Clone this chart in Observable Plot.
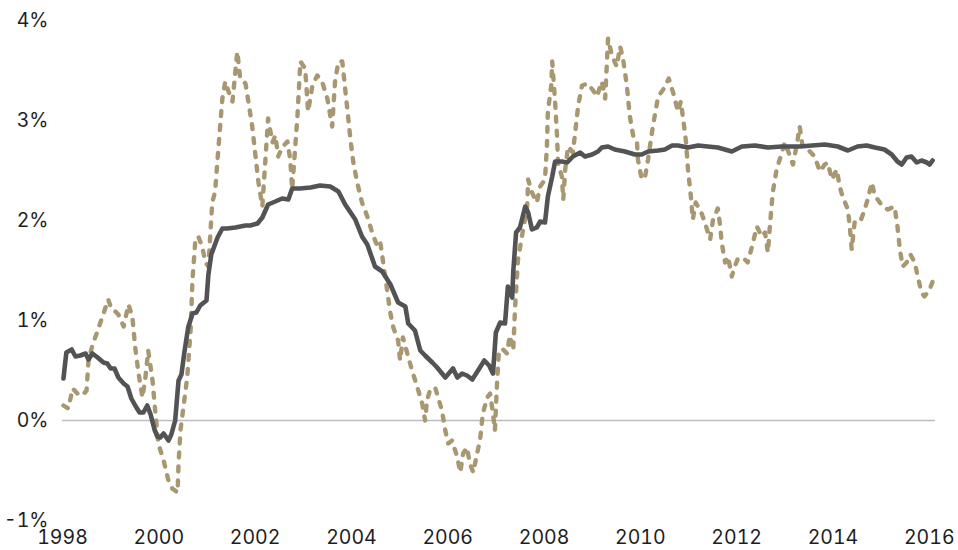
<!DOCTYPE html>
<html>
<head>
<meta charset="utf-8">
<script src="https://cdn.jsdelivr.net/npm/d3@7"></script>
<script src="https://cdn.jsdelivr.net/npm/@observablehq/plot@0.6"></script>
<style>
  html, body { margin: 0; padding: 0; background: #fff; }
  #chart svg { display: block; }
</style>
</head>
<body>
<div id="chart"></div>
<script>
// Solid series (dark grey) — decimal year, percent
const solidYears = [1998.02,1998.08,1998.19,1998.27,1998.37,1998.48,1998.54,1998.62,1998.73,1998.85,1998.93,1999.00,1999.08,1999.16,1999.27,1999.35,1999.43,1999.51,1999.60,1999.68,1999.76,1999.83,1999.91,1999.97,2000.03,2000.10,2000.20,2000.26,2000.34,2000.41,2000.47,2000.53,2000.61,2000.70,2000.78,2000.86,2000.99,2001.03,2001.09,2001.22,2001.32,2001.42,2001.59,2001.80,2001.90,2002.05,2002.15,2002.27,2002.42,2002.56,2002.69,2002.77,2002.93,2003.15,2003.35,2003.56,2003.73,2003.87,2004.08,2004.22,2004.33,2004.49,2004.64,2004.81,2004.97,2005.12,2005.18,2005.32,2005.43,2005.53,2005.68,2005.78,2005.95,2006.11,2006.20,2006.30,2006.40,2006.51,2006.63,2006.76,2006.86,2006.94,2007.00,2007.09,2007.19,2007.25,2007.34,2007.36,2007.42,2007.50,2007.61,2007.67,2007.75,2007.85,2007.92,2008.02,2008.08,2008.17,2008.23,2008.37,2008.48,2008.60,2008.75,2008.85,2009.00,2009.12,2009.20,2009.33,2009.47,2009.68,2009.89,2010.03,2010.16,2010.37,2010.51,2010.66,2010.78,2010.99,2011.20,2011.40,2011.61,2011.90,2012.11,2012.38,2012.65,2012.94,2013.31,2013.83,2014.10,2014.31,2014.51,2014.70,2014.87,2015.07,2015.22,2015.34,2015.43,2015.53,2015.63,2015.74,2015.84,2015.95,2016.01,2016.07];
const solidValues = [0.42,0.68,0.71,0.64,0.65,0.67,0.61,0.67,0.63,0.58,0.57,0.52,0.52,0.43,0.37,0.34,0.22,0.15,0.08,0.08,0.15,0.06,-0.09,-0.16,-0.17,-0.13,-0.20,-0.14,0.00,0.40,0.46,0.68,0.93,1.07,1.08,1.15,1.20,1.46,1.66,1.83,1.92,1.92,1.93,1.95,1.95,1.97,2.03,2.16,2.19,2.22,2.21,2.32,2.32,2.33,2.35,2.34,2.29,2.16,2.01,1.84,1.76,1.54,1.49,1.36,1.18,1.14,0.97,0.90,0.70,0.65,0.58,0.53,0.43,0.52,0.43,0.47,0.45,0.41,0.50,0.60,0.55,0.47,0.88,0.98,0.97,1.34,1.23,1.48,1.88,1.93,2.14,2.08,1.91,1.93,1.99,1.98,2.24,2.44,2.59,2.59,2.58,2.64,2.68,2.64,2.66,2.69,2.73,2.74,2.71,2.69,2.66,2.66,2.69,2.70,2.71,2.75,2.75,2.73,2.75,2.74,2.73,2.69,2.74,2.75,2.73,2.74,2.74,2.76,2.74,2.70,2.74,2.75,2.73,2.71,2.66,2.59,2.56,2.63,2.64,2.58,2.60,2.58,2.56,2.60];

// Dashed series (tan) — decimal year, percent
const dashedYears = [1998.02,1998.12,1998.21,1998.31,1998.41,1998.50,1998.54,1998.62,1998.73,1998.83,1998.95,1999.02,1999.10,1999.16,1999.27,1999.37,1999.45,1999.51,1999.58,1999.66,1999.72,1999.78,1999.87,1999.93,1999.99,2000.10,2000.20,2000.28,2000.39,2000.41,2000.45,2000.51,2000.59,2000.66,2000.70,2000.76,2000.82,2000.90,2000.97,2001.03,2001.11,2001.17,2001.24,2001.32,2001.38,2001.44,2001.53,2001.59,2001.63,2001.69,2001.80,2001.86,2001.94,2002.00,2002.07,2002.15,2002.21,2002.27,2002.36,2002.42,2002.48,2002.56,2002.67,2002.73,2002.77,2002.88,2002.94,2003.04,2003.10,2003.19,2003.29,2003.39,2003.50,2003.60,2003.66,2003.73,2003.81,2003.87,2003.98,2004.04,2004.12,2004.22,2004.33,2004.43,2004.54,2004.60,2004.66,2004.74,2004.81,2004.87,2004.97,2005.01,2005.07,2005.16,2005.26,2005.37,2005.47,2005.53,2005.57,2005.63,2005.74,2005.80,2005.88,2005.95,2006.01,2006.09,2006.20,2006.26,2006.32,2006.40,2006.46,2006.53,2006.61,2006.67,2006.73,2006.82,2006.88,2006.94,2006.98,2007.02,2007.06,2007.13,2007.23,2007.29,2007.36,2007.40,2007.46,2007.54,2007.65,2007.67,2007.75,2007.85,2007.92,2008.02,2008.06,2008.08,2008.15,2008.17,2008.23,2008.27,2008.29,2008.37,2008.40,2008.44,2008.50,2008.60,2008.64,2008.71,2008.79,2008.91,2009.02,2009.10,2009.20,2009.27,2009.33,2009.41,2009.51,2009.58,2009.64,2009.72,2009.78,2009.85,2009.93,2009.95,2010.03,2010.10,2010.16,2010.26,2010.37,2010.49,2010.59,2010.70,2010.78,2010.84,2010.90,2010.95,2010.99,2011.05,2011.09,2011.15,2011.26,2011.34,2011.45,2011.51,2011.61,2011.66,2011.69,2011.76,2011.82,2011.90,2011.96,2012.02,2012.13,2012.23,2012.32,2012.42,2012.52,2012.59,2012.65,2012.69,2012.75,2012.83,2012.94,2013.00,2013.08,2013.17,2013.25,2013.31,2013.37,2013.48,2013.62,2013.73,2013.83,2013.89,2013.98,2014.08,2014.14,2014.20,2014.31,2014.35,2014.39,2014.45,2014.56,2014.66,2014.72,2014.81,2014.87,2014.93,2015.03,2015.14,2015.28,2015.34,2015.39,2015.45,2015.53,2015.61,2015.70,2015.76,2015.84,2015.90,2016.01,2016.07];
const dashedValues = [0.15,0.12,0.32,0.27,0.25,0.30,0.60,0.75,0.90,1.04,1.21,1.11,1.09,1.06,0.94,1.16,1.04,0.73,0.47,0.23,0.42,0.70,0.40,0.07,-0.23,-0.40,-0.60,-0.68,-0.72,-0.43,-0.10,0.13,0.43,0.90,1.41,1.81,1.84,1.74,1.58,1.54,2.18,2.29,2.74,3.22,3.39,3.30,3.19,3.49,3.69,3.42,3.37,3.19,2.94,2.68,2.38,2.14,2.58,3.02,2.78,2.85,2.64,2.73,2.79,2.61,2.31,3.05,3.59,3.52,3.09,3.35,3.45,3.39,3.22,2.94,3.39,3.59,3.59,3.32,2.81,2.58,2.38,2.18,2.04,1.88,1.74,1.78,1.58,1.31,1.07,0.93,0.80,0.60,0.83,0.67,0.50,0.33,0.17,0.00,0.20,0.30,0.33,0.23,0.10,-0.10,-0.23,-0.20,-0.37,-0.52,-0.33,-0.27,-0.43,-0.52,-0.33,-0.20,0.07,0.23,0.27,0.07,-0.10,0.33,0.67,0.72,0.67,0.85,0.70,1.14,1.61,1.84,2.14,2.41,2.28,2.18,2.34,2.41,2.74,3.09,3.35,3.59,3.19,2.85,2.58,2.44,2.21,2.51,2.74,2.68,2.85,3.15,3.35,3.37,3.30,3.24,3.39,3.22,3.82,3.65,3.54,3.74,3.62,3.35,3.05,2.85,2.79,2.61,2.41,2.44,2.61,2.94,3.24,3.32,3.42,3.25,3.09,3.19,2.98,2.78,2.51,2.24,2.01,2.18,2.09,1.98,1.81,2.01,2.12,1.94,1.78,1.58,1.64,1.44,1.54,1.61,1.63,1.58,1.74,1.94,1.84,1.88,1.68,1.94,2.28,2.51,2.68,2.78,2.68,2.56,2.76,2.94,2.74,2.71,2.64,2.49,2.56,2.58,2.41,2.51,2.34,2.24,2.11,1.94,1.71,1.98,1.98,2.11,2.21,2.38,2.24,2.21,2.14,2.11,2.14,1.94,1.71,1.54,1.58,1.66,1.58,1.44,1.28,1.24,1.31,1.39];

const xTicks = [1998, 2000, 2002, 2004, 2006, 2008, 2010, 2012, 2014, 2016];
const yTicks = [-1, 0, 1, 2, 3, 4];

const solid = solidYears.map((x, i) => ({x, y: solidValues[i]}));
const dashed = dashedYears.map((x, i) => ({x, y: dashedValues[i]}));

const chart = Plot.plot({
  width: 958,
  height: 550,
  marginLeft: 62,
  marginRight: 23,
  marginTop: 20,
  marginBottom: 30,
  style: {fontFamily: "Inter, 'Noto Sans', sans-serif", fontSize: "19.5px", color: "#1e1e1e", background: "#fff"},
  x: {domain: [1998, 2016.13], ticks: xTicks, tickFormat: d => String(d), tickSize: 0, tickPadding: 10, label: null},
  y: {domain: [-1, 4], ticks: yTicks, tickFormat: d => d + "%", tickSize: 0, tickPadding: 14, label: null},
  marks: [
    Plot.ruleY([0], {stroke: "#bdbdbd", strokeWidth: 1.5}),
    Plot.line(dashed, {x: "x", y: "y", stroke: "#a89872", strokeWidth: 4.4, strokeDasharray: "5,9", strokeLinecap: "round", strokeLinejoin: "round"}),
    Plot.line(solid, {x: "x", y: "y", stroke: "#535356", strokeWidth: 4.6, strokeLinejoin: "round"})
  ]
});
document.getElementById("chart").appendChild(chart);
</script>
</body>
</html>
